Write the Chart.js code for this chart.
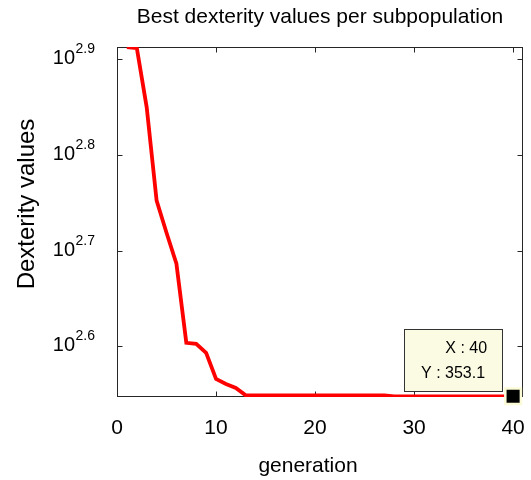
<!DOCTYPE html>
<html>
<head>
<meta charset="utf-8">
<script src="https://cdn.jsdelivr.net/npm/chart.js@4"></script>
<style>
  html, body { margin: 0; padding: 0; background: #fff; }
  #wrap { width: 531px; height: 480px; position: relative; }
</style>
</head>
<body>
<div id="wrap"><canvas id="dexChart"></canvas></div>
<script>
// values
const generations = [1, 2, 3, 4, 5, 6, 7, 8, 9, 10,
    11, 12, 13, 14, 15, 16, 17, 18, 19, 20,
    21, 22, 23, 24, 25, 26, 27, 28, 29, 30,
    31, 32, 33, 34, 35, 36, 37, 38, 39, 40];
const bestDexterity = [818, 816, 707.5, 565.3, 523.3, 485.8, 401.6, 400.6, 392.0, 368.2,
    363.7, 360.2, 353.9, 353.9, 353.9, 353.9, 353.9, 353.9, 353.9, 353.9,
    353.9, 353.9, 353.9, 353.9, 353.9, 353.9, 353.9, 353.1, 353.1, 353.1,
    353.1, 353.1, 353.1, 353.1, 353.1, 353.1, 353.1, 353.1, 353.1, 353.1];
const xTicks = [0, 10, 20, 30, 40];
const yTickExps = [2.6, 2.7, 2.8, 2.9];
const tipX = 40;
const tipY = 353.1;
const xLabel = 'generation';
const yLabel = 'Dexterity values';

const FONT = "'Liberation Sans', Arial, sans-serif";
Chart.defaults.font.family = FONT;
Chart.defaults.color = '#000';

// matlab style box with inward ticks, 10^x labels, axis labels and the datatip
const axesBox = {
    id: 'axesBox',
    beforeDatasetsDraw(chart) {
        const { ctx, chartArea: a, scales: { x, y } } = chart;
        const L = Math.round(a.left) + 0.5, R = Math.round(a.right) - 0.5;
        const T = Math.round(a.top) + 0.5, B = Math.round(a.bottom) - 0.5;
        ctx.save();
        ctx.strokeStyle = '#262626';
        ctx.lineWidth = 1;
        ctx.strokeRect(L, T, R - L, B - T);
        ctx.beginPath();
        xTicks.forEach(v => {
            const px = Math.round(x.getPixelForValue(v)) + 0.5;
            ctx.moveTo(px, B); ctx.lineTo(px, B - 5);
            ctx.moveTo(px, T); ctx.lineTo(px, T + 5);
        });
        yTickExps.forEach(e => {
            const py = Math.round(y.getPixelForValue(Math.pow(10, e))) + 0.5;
            ctx.moveTo(L, py); ctx.lineTo(L + 5, py);
            ctx.moveTo(R, py); ctx.lineTo(R - 5, py);
        });
        ctx.stroke();

        // y tick labels as 10 with a raised exponent
        ctx.fillStyle = '#000';
        ctx.textBaseline = 'alphabetic';
        yTickExps.forEach(e => {
            const py = y.getPixelForValue(Math.pow(10, e));
            ctx.font = '20px ' + FONT;
            ctx.textAlign = 'right';
            ctx.fillText('10', 75, py + 5);
            ctx.font = '14px ' + FONT;
            ctx.textAlign = 'left';
            ctx.fillText(e.toFixed(1), 75.5, py - 6);
        });

        // axis labels (sit a bit off-centre in the original)
        ctx.textAlign = 'center';
        ctx.textBaseline = 'middle';
        ctx.font = '21px ' + FONT;
        ctx.fillText(xLabel, (a.left + a.right) / 2 - 12, 466);
        ctx.translate(27, (a.top + a.bottom) / 2 - 18);
        ctx.rotate(-Math.PI / 2);
        ctx.font = '24px ' + FONT;
        ctx.fillText(yLabel, 0, 0);
        ctx.restore();
    },
    afterDatasetsDraw(chart) {
        const { ctx, scales: { x, y } } = chart;
        const px = x.getPixelForValue(tipX);
        const py = y.getPixelForValue(tipY);
        const left = Math.round(px - 109) + 0.5, right = Math.round(px - 11) + 0.5;
        const top = Math.round(py - 67) + 0.5, bottom = Math.round(py - 5) + 0.5;
        ctx.save();
        ctx.fillStyle = '#fbfbe4';
        ctx.strokeStyle = '#333';
        ctx.lineWidth = 1;
        ctx.fillRect(left, top, right - left, bottom - top);
        ctx.strokeRect(left, top, right - left, bottom - top);
        ctx.fillStyle = '#000';
        ctx.font = '16px ' + FONT;
        ctx.textAlign = 'right';
        ctx.textBaseline = 'alphabetic';
        ctx.fillText('X : ' + tipX, px - 26, py - 43);
        ctx.fillText('Y : ' + tipY.toFixed(1), px - 28, py - 18);
        ctx.restore();
    }
};

const ctx = document.getElementById('dexChart').getContext('2d');
new Chart(ctx, {
    type: 'line',
    data: {
        datasets: [
            {
                // datatip marker
                data: [{ x: tipX, y: tipY }],
                showLine: false,
                pointStyle: 'rect',
                pointRadius: 11,
                backgroundColor: '#000',
                borderColor: '#fbfbd8',
                borderWidth: 2.5,
                clip: false
            },
            {
                data: generations.map((g, i) => ({ x: g, y: bestDexterity[i] })),
                borderColor: '#ff0000',
                borderWidth: 3.8,
                pointRadius: 0,
                tension: 0,
                fill: false
            }
        ]
    },
    options: {
        responsive: true,
        maintainAspectRatio: false,
        animation: false,
        layout: { autoPadding: false, padding: { left: 0, right: 8, top: 0, bottom: 0 } },
        plugins: {
            legend: { display: false },
            tooltip: { enabled: false },
            title: {
                display: true,
                fullSize: false,
                text: 'Best dexterity values per subpopulation',
                color: '#000',
                font: { size: 21, weight: 'normal' },
                padding: { top: 5, bottom: 16.8 }
            }
        },
        scales: {
            x: {
                type: 'linear',
                min: 0,
                max: 41,
                afterBuildTicks: s => { s.ticks = xTicks.map(v => ({ value: v })); },
                afterFit: s => { s.height = 83; s.paddingLeft = 0; s.paddingRight = 0; },
                grid: { display: false, drawTicks: false },
                border: { display: false },
                ticks: { font: { size: 21 }, color: '#000', padding: 19, maxRotation: 0 },
                title: { display: false }
            },
            y: {
                type: 'logarithmic',
                min: 352.5,
                max: 818,
                afterBuildTicks: s => { s.ticks = yTickExps.map(e => ({ value: Math.pow(10, e) })); },
                afterFit: s => { s.width = 117; },
                grid: { display: false, drawTicks: false },
                border: { display: false },
                ticks: { display: false },
                title: { display: false }
            }
        }
    },
    plugins: [axesBox]
});
</script>
</body>
</html>
